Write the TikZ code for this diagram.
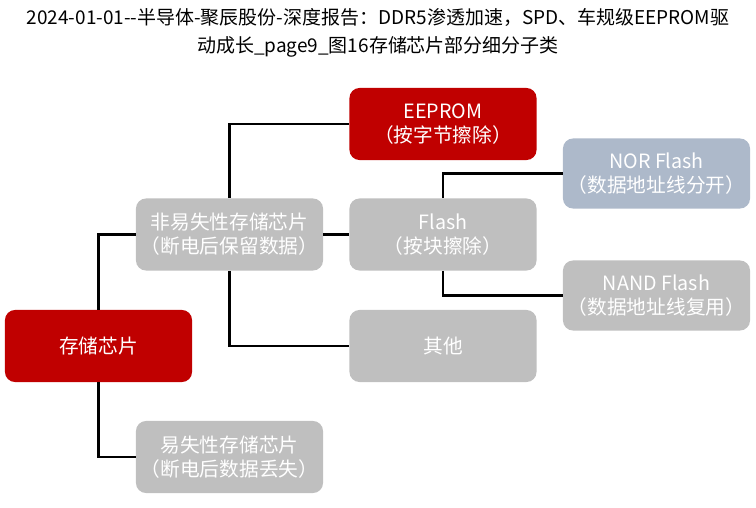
\documentclass[tikz,border=0pt]{standalone}
\usepackage{fontspec}
\setmainfont{Noto Sans CJK SC}
\usetikzlibrary{positioning}
\definecolor{chipred}{RGB}{192,0,0}
\definecolor{chipgray}{RGB}{191,191,191}
\definecolor{chipblue}{RGB}{173,185,202}

\tikzset{
  catbox/.style={rounded corners=0.25cm, fill=chipgray, text=white, align=center,
    minimum width=4.675cm, minimum height=1.8cm, inner sep=0pt,
    font=\fontsize{14}{17}\selectfont},
  keybox/.style={catbox, fill=chipred},
  subbox/.style={catbox, minimum height=1.75cm},
  link/.style={black, line width=1.8pt}
}

\begin{document}
\begin{tikzpicture}[x=0.025cm, y=-0.025cm]
  \useasboundingbox (0,0) rectangle (756,507);

  % title
  \node[font=\fontsize{13.5}{19.5}\selectfont, align=center] (title) at (378,33)
    {2024-01-01-{}-半导体-聚辰股份-深度报告：DDR5渗透加速，SPD、车规级EEPROM驱\\动成长\_page9\_图16存储芯片部分细分子类};

  % tree of memory chips
  \node[keybox] (root) at (98.5,346) {存储芯片};
  \node[catbox] (nvol) at (229.5,234.5) {非易失性存储芯片\\（断电后保留数据）};
  \node[catbox] (vol) at (229.5,457) {易失性存储芯片\\（断电后数据丢失）};

  \node[keybox] (eeprom) at (443,124) {EEPROM\\（按字节擦除）};
  \node[catbox] (flash) at (443,234.5) {Flash\\（按块擦除）};
  \node[catbox] (other) at (443,346) {其他};

  \node[subbox, fill=chipblue] (nor) at (656.5,173.5) {NOR Flash\\（数据地址线分开）};
  \node[subbox] (nand) at (656.5,295.5) {NAND Flash\\（数据地址线复用）};

  % connectors
  \draw[link] (root.north) |- (nvol.west);
  \draw[link] (root.south) |- (vol.west);
  \draw[link] (nvol.north) |- (eeprom.west);
  \draw[link] (nvol.east) -- (flash.west);
  \draw[link] (nvol.south) |- (other.west);
  \draw[link] (flash.north) |- (nor.west);
  \draw[link] (flash.south) |- (nand.west);
\end{tikzpicture}
\end{document}
